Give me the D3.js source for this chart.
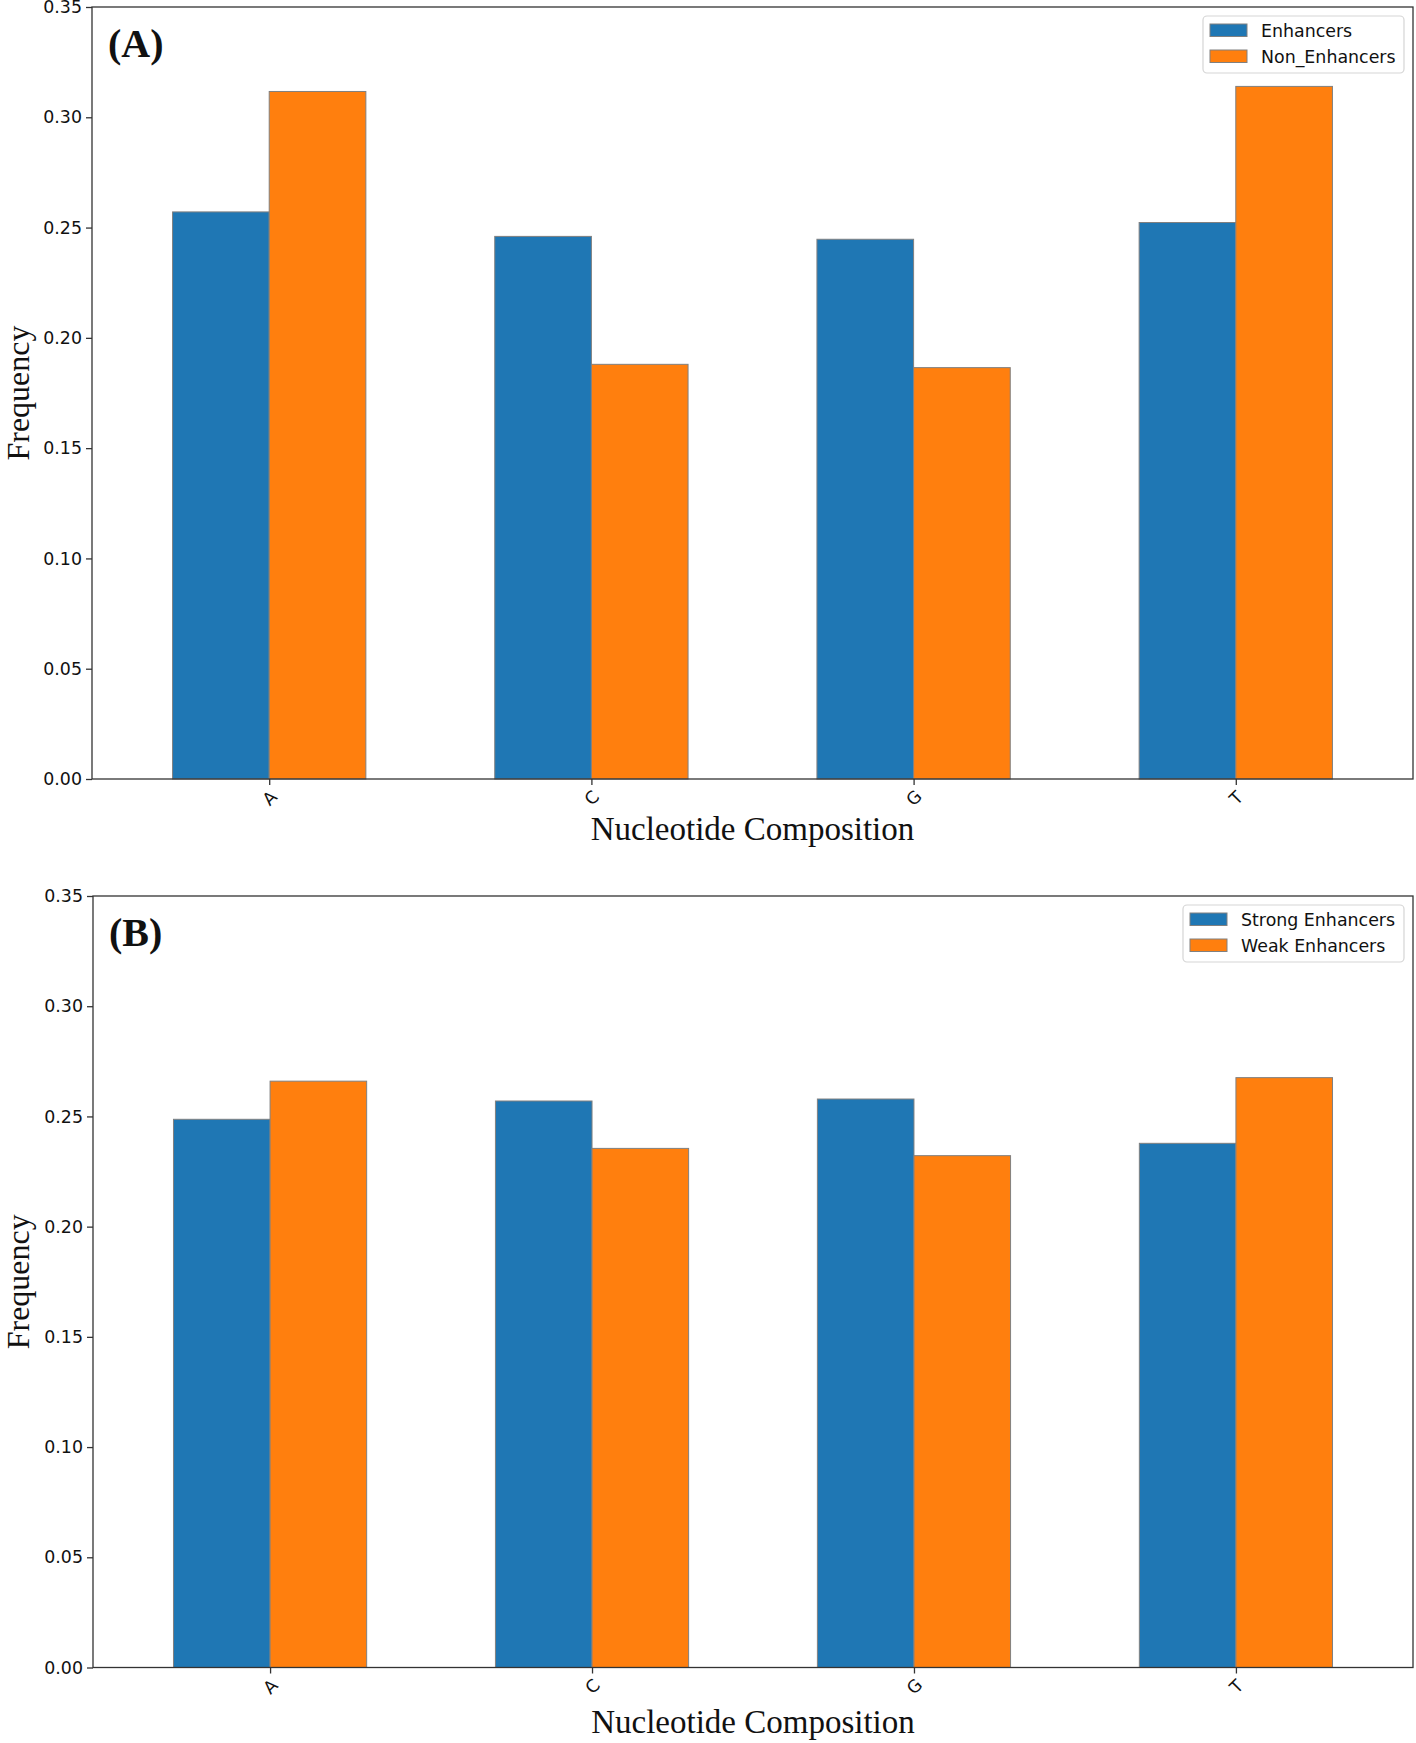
<!DOCTYPE html>
<html>
<head>
<meta charset="utf-8">
<script src="https://cdn.jsdelivr.net/npm/d3@7"></script>
<style>
  html, body { margin: 0; padding: 0; background: #fff; }
  svg { display: block; }
</style>
</head>
<body>
<svg id="chart" width="1416" height="1743"></svg>
<script>
// ---- data ----
const categories = ["A", "C", "G", "T"];
const yTicks = [0.00, 0.05, 0.10, 0.15, 0.20, 0.25, 0.30, 0.35];

const panelALabel = "(A)";
const panelASeriesNames = ["Enhancers", "Non_Enhancers"];
const panelAEnhancers = [0.2571, 0.2460, 0.2447, 0.2523];
const panelANonEnhancers = [0.3117, 0.1880, 0.1865, 0.3140];

const panelBLabel = "(B)";
const panelBSeriesNames = ["Strong Enhancers", "Weak Enhancers"];
const panelBStrong = [0.2487, 0.2570, 0.2579, 0.2378];
const panelBWeak = [0.2660, 0.2355, 0.2322, 0.2676];

const xLabel = "Nucleotide Composition";
const yLabel = "Frequency";

// ---- style ----
const colors = ["#1f77b4", "#ff7f0e"];
const barWidth = 0.3;
const serif = "'Times New Roman', 'Liberation Serif', Times, serif";
const sans = "'DejaVu Sans', sans-serif";
const tickFont = 17.4;

const svg = d3.select("#chart");

function drawPanel(cfg) {
  const { left, right, top, bottom, label, names, s1, s2, xLabelY } = cfg;
  const g = svg.append("g");

  const x = d3.scaleLinear().domain([-0.55, 3.55]).range([left, right]);
  const y = d3.scaleLinear().domain([0, 0.35]).range([bottom, top]);

  // bars
  const series = [s1, s2];
  series.forEach((vals, si) => {
    g.selectAll(null)
      .data(vals)
      .enter()
      .append("rect")
      .attr("x", (d, i) => x(i - barWidth + si * barWidth))
      .attr("width", (d, i) => x(i + si * barWidth) - x(i - barWidth + si * barWidth))
      .attr("y", d => y(d))
      .attr("height", d => y(0) - y(d))
      .attr("fill", colors[si])
      .attr("stroke", "#808080")
      .attr("stroke-width", 1);
  });

  // y axis
  const yAxis = d3.axisLeft(y)
    .tickValues(yTicks)
    .tickFormat(d3.format(".2f"))
    .tickSize(6)
    .tickSizeOuter(0)
    .tickPadding(4);
  const ya = g.append("g").attr("transform", `translate(${left},0)`).call(yAxis);
  ya.select(".domain").remove();
  ya.selectAll(".tick line").attr("stroke", "#333").attr("stroke-width", 1.3);
  ya.selectAll(".tick text")
    .attr("font-family", sans)
    .attr("font-size", tickFont)
    .attr("fill", "#111");

  // x axis
  const xAxis = d3.axisBottom(x)
    .tickValues(categories.map((c, i) => i))
    .tickFormat(i => categories[i])
    .tickSize(6)
    .tickSizeOuter(0);
  const xa = g.append("g").attr("transform", `translate(0,${bottom})`).call(xAxis);
  xa.select(".domain").remove();
  xa.selectAll(".tick line").attr("stroke", "#333").attr("stroke-width", 1.3);
  xa.selectAll(".tick text")
    .attr("font-family", sans)
    .attr("font-size", tickFont)
    .attr("fill", "#111")
    .attr("text-anchor", "middle")
    .attr("dominant-baseline", "central")
    .attr("x", 0)
    .attr("y", 19)
    .attr("dy", null)
    .attr("transform", "rotate(-45, 0, 19)");

  // frame
  g.append("rect")
    .attr("x", left).attr("y", top)
    .attr("width", right - left).attr("height", bottom - top)
    .attr("fill", "none")
    .attr("stroke", "#333")
    .attr("stroke-width", 1.3);

  // panel label
  g.append("text")
    .attr("x", left + 16)
    .attr("y", top + 50)
    .attr("font-family", serif)
    .attr("font-weight", "bold")
    .attr("font-size", 40)
    .attr("fill", "#111")
    .text(label);

  // axis labels
  g.append("text")
    .attr("x", (left + right) / 2)
    .attr("y", xLabelY)
    .attr("text-anchor", "middle")
    .attr("font-family", serif)
    .attr("font-size", 33)
    .attr("fill", "#111")
    .text(xLabel);

  g.append("text")
    .attr("transform", `translate(29,${(top + bottom) / 2}) rotate(-90)`)
    .attr("text-anchor", "middle")
    .attr("font-family", serif)
    .attr("font-size", 32)
    .attr("fill", "#111")
    .text(yLabel);

  // legend
  const lg = g.append("g");
  const lw = cfg.legendWidth, lh = 57;
  const lx = right - 9 - lw, ly = top + 9;
  lg.append("rect")
    .attr("x", lx).attr("y", ly)
    .attr("width", lw).attr("height", lh)
    .attr("rx", 4).attr("ry", 4)
    .attr("fill", "#fff").attr("fill-opacity", 0.8)
    .attr("stroke", "#d5d5d5").attr("stroke-width", 1.2);
  names.forEach((n, i) => {
    const ry = ly + 8 + i * 26;
    lg.append("rect")
      .attr("x", lx + 7).attr("y", ry)
      .attr("width", 37).attr("height", 12.5)
      .attr("fill", colors[i])
      .attr("stroke", "#808080").attr("stroke-width", 1);
    lg.append("text")
      .attr("x", lx + 58)
      .attr("y", ry + 6.5)
      .attr("dominant-baseline", "central")
      .attr("font-family", sans)
      .attr("font-size", tickFont)
      .attr("fill", "#111")
      .text(n);
  });
}

drawPanel({
  left: 92, right: 1413, top: 7, bottom: 779,
  label: panelALabel, names: panelASeriesNames,
  s1: panelAEnhancers, s2: panelANonEnhancers,
  xLabelY: 840, legendWidth: 201
});

drawPanel({
  left: 93, right: 1413, top: 896, bottom: 1667.5,
  label: panelBLabel, names: panelBSeriesNames,
  s1: panelBStrong, s2: panelBWeak,
  xLabelY: 1733, legendWidth: 221
});
</script>
</body>
</html>
